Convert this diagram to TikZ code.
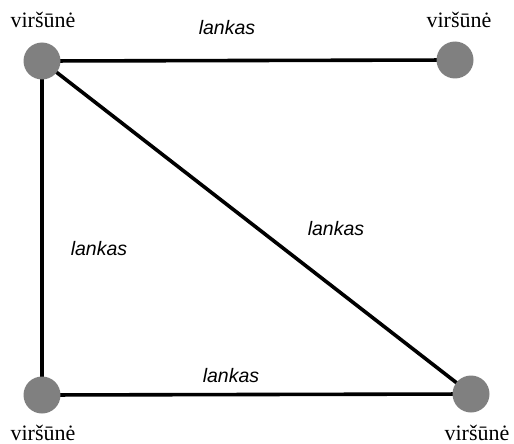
\documentclass[tikz,border=0pt]{standalone}
\usepackage{fontspec}
\setmainfont{Liberation Serif}
\newfontfamily\lblfont{Liberation Sans}
\pgfdeclarelayer{bg}
\pgfsetlayers{bg,main}
\begin{document}
\begin{tikzpicture}[x=1pt,y=-1pt,
  vert/.style={circle,fill=vgray,draw=none,minimum size=37pt,inner sep=0pt},
  edge/.style={line width=3.6pt,black},
  vlabel/.style={anchor=base,font=\fontsize{22}{25}\selectfont,inner sep=0pt},
  elabel/.style={anchor=base,font=\lblfont\itshape\fontsize{19.5}{22}\selectfont,inner sep=0pt}]
\definecolor{vgray}{RGB}{128,128,128}
\useasboundingbox (0,0) rectangle (514,444);
\node[vert] (tl) at (42,61) {};
\node[vert] (tr) at (455,60) {};
\node[vert] (bl) at (42,395) {};
\node[vert] (br) at (471,394) {};
\begin{pgfonlayer}{bg}
\draw[edge] (tl.center) -- (tr.center);
\draw[edge] (tl.center) -- (bl.center);
\draw[edge] (bl.center) -- (br.center);
\draw[edge] (tl.center) -- (br.center);
\end{pgfonlayer}
\node[vlabel] (l1) at (43,28) {viršūnė};
\node[vlabel] (l2) at (459,28) {viršūnė};
\node[vlabel] (l3) at (43,440) {viršūnė};
\node[vlabel] (l4) at (477,440) {viršūnė};
\node[elabel] (e1) at (227,35) {lankas};
\node[elabel] (e2) at (336,235) {lankas};
\node[elabel] (e3) at (99,255) {lankas};
\node[elabel] (e4) at (231,382) {lankas};
\end{tikzpicture}
\end{document}
